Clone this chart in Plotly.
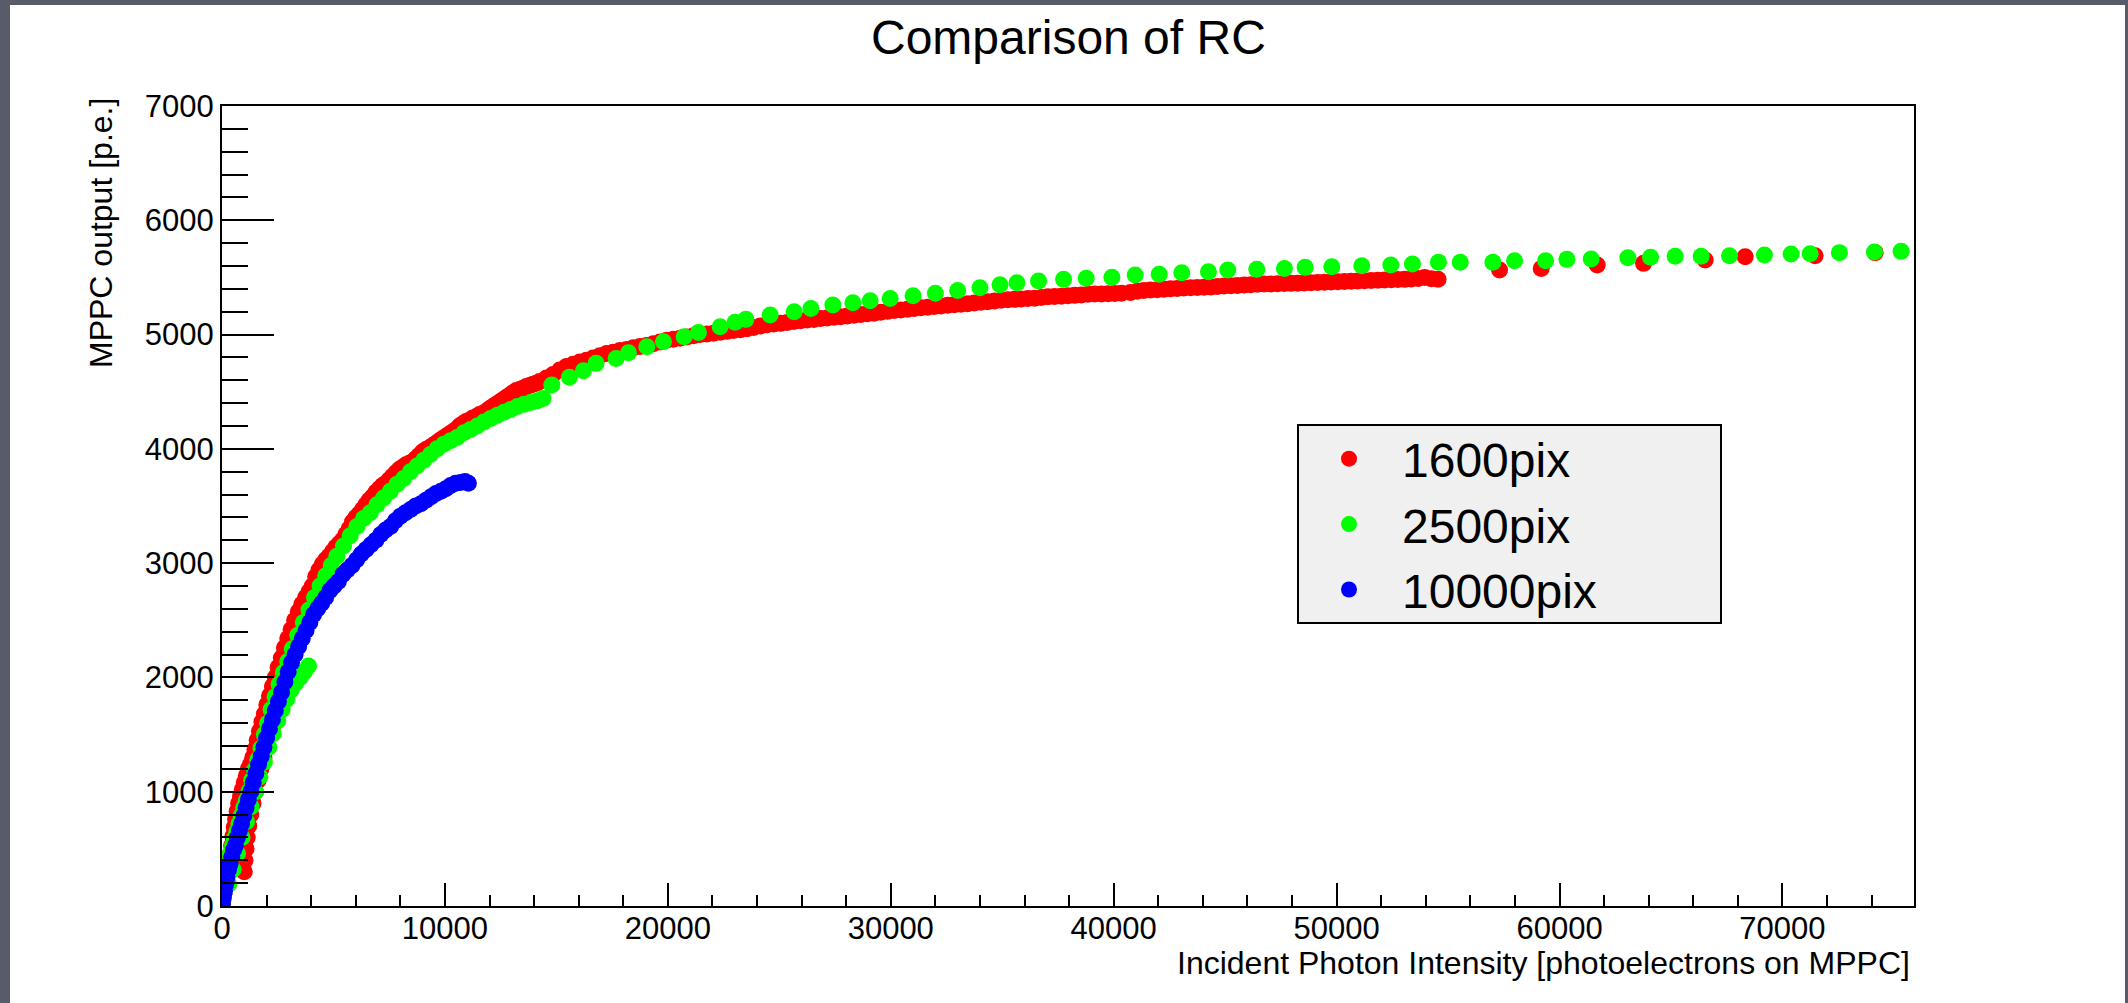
import plotly.graph_objects as go

# ---------------- data ----------------
series_names = ["1600pix", "2500pix", "10000pix"]
series_colors = ["#ff0000", "#00ff00", "#0000ff"]

red_pts = [
    # lower run near origin
    (1000, 300), (1030, 400), (1080, 500), (1130, 600), (1200, 700), (1290, 800), (1390, 900),
    (1500, 1000), (1620, 1100), (1750, 1200), (1880, 1300), (2000, 1400), (2150, 1500),
    (2350, 1600), (2550, 1700),
    # main run
    (30, 40), (80, 100), (130, 160), (190, 230), (250, 300), (310, 380), (370, 450), (430, 530),
    (490, 610), (550, 690), (610, 760), (680, 830), (750, 900), (830, 960), (910, 1020),
    (1000, 1080), (1090, 1140), (1180, 1200), (1280, 1240), (1380, 1300), (1480, 1370),
    (1580, 1450), (1680, 1530), (1790, 1610), (1900, 1680), (2010, 1760), (2130, 1840),
    (2260, 1920), (2390, 2000), (2520, 2090), (2660, 2170), (2800, 2260), (2950, 2340),
    (3100, 2420), (3260, 2500), (3420, 2575), (3580, 2640), (3750, 2700), (3900, 2750),
    (4050, 2800), (4200, 2880), (4350, 2940), (4500, 2990), (4650, 3030), (4800, 3060),
    (4950, 3100), (5100, 3140), (5250, 3170), (5400, 3200), (5550, 3250), (5700, 3300),
    (5850, 3360), (6000, 3400), (6150, 3430), (6300, 3470), (6450, 3510), (6600, 3550),
    (6750, 3580), (6900, 3620), (7050, 3650), (7200, 3680), (7350, 3700), (7500, 3730),
    (7650, 3760), (7800, 3790), (7950, 3820), (8100, 3840), (8250, 3860), (8400, 3875),
    (8550, 3890), (8700, 3915), (8850, 3945), (9000, 3975), (9150, 3995), (9300, 4010),
    (9450, 4030), (9600, 4050), (9750, 4070), (9900, 4090), (10050, 4110), (10200, 4130),
    (10350, 4150), (10500, 4170), (10650, 4200), (10800, 4220), (10950, 4240), (11100, 4250),
    (11250, 4270), (11400, 4280), (11550, 4300), (11700, 4310), (11850, 4330), (12000, 4350),
    (12150, 4370), (12300, 4390), (12450, 4410), (12600, 4430), (12750, 4450), (12900, 4470),
    (13050, 4490), (13200, 4510), (13350, 4520), (13500, 4530), (13650, 4545), (13800, 4555),
    (13950, 4565), (14100, 4575), (14250, 4590), (14550, 4620), (14850, 4650), (15150, 4690),
    (15450, 4720), (15750, 4740), (16050, 4760), (16350, 4775), (16650, 4795), (16950, 4815),
    (17250, 4835), (17550, 4845), (17850, 4860), (18150, 4870), (18450, 4885), (18750, 4895),
    (19050, 4905), (19350, 4920), (19650, 4935), (19950, 4950), (20250, 4960), (20550, 4968),
    (20850, 4978), (21150, 4990), (21450, 5000), (21750, 5005), (22050, 5012), (22350, 5020),
    (22650, 5028), (22950, 5035), (23250, 5042), (23550, 5052), (23850, 5062), (24150, 5075),
    (24450, 5085), (24750, 5092), (25050, 5098), (25350, 5105), (25650, 5115), (25950, 5122),
    (26250, 5128), (26550, 5132), (26850, 5140), (27150, 5146), (27450, 5152), (27750, 5157),
    (28050, 5163), (28350, 5170), (28650, 5176), (28950, 5182), (29250, 5187), (29550, 5195),
    (29850, 5203), (30150, 5210), (30450, 5216), (30750, 5222), (31050, 5228), (31350, 5234),
    (31650, 5240), (31950, 5246), (32250, 5250), (32550, 5256), (32850, 5262), (33150, 5266),
    (33450, 5270), (33750, 5276), (34050, 5282), (34350, 5288), (34650, 5294), (34950, 5300),
    (35250, 5304), (35550, 5308), (35850, 5312), (36150, 5316), (36450, 5318), (36750, 5325),
    (37050, 5330), (37350, 5334), (37650, 5336), (37950, 5340), (38250, 5343), (38550, 5347),
    (38850, 5352), (39150, 5354), (39450, 5356), (39750, 5358), (40050, 5360), (40350, 5362),
    (40750, 5368), (41050, 5380), (41350, 5386), (41650, 5390), (41950, 5393), (42250, 5396),
    (42550, 5400), (42850, 5404), (43150, 5407), (43450, 5409), (43750, 5411), (44050, 5414),
    (44350, 5417), (44650, 5420), (44950, 5424), (45250, 5427), (45550, 5430), (45850, 5433),
    (46150, 5436), (46450, 5440), (46750, 5442), (47050, 5443), (47350, 5444), (47650, 5446),
    (47950, 5448), (48250, 5450), (48550, 5452), (48850, 5454), (49150, 5456), (49450, 5458),
    (49750, 5460), (50050, 5463), (50350, 5465), (50650, 5467), (50950, 5469), (51250, 5471),
    (51550, 5473), (51850, 5475), (52150, 5477), (52450, 5479), (52750, 5481), (53050, 5483),
    (53350, 5486), (53650, 5490), (53950, 5500), (54250, 5488), (54550, 5484),
    # sparse tail
    (57309, 5565), (59178, 5579), (61690, 5608), (63767, 5623), (66533, 5652),
    (68327, 5681), (71465, 5690), (74157, 5717),
]

green_pts = [
    # lower run (ends near 3900)
    (300, 190), (500, 320), (700, 460), (900, 600), (1100, 740), (1300, 870), (1500, 1000),
    (1700, 1130), (1900, 1260), (2100, 1390), (2300, 1510), (2500, 1620), (2700, 1720),
    (2900, 1810), (3100, 1890), (3300, 1950), (3500, 2000), (3700, 2050), (3880, 2100),
    # main run
    (20, 30), (80, 110), (150, 200), (220, 290), (300, 380), (380, 460), (470, 530), (560, 590),
    (660, 650), (760, 720), (860, 790), (970, 860), (1080, 920), (1200, 1000), (1330, 1100),
    (1460, 1190), (1600, 1280), (1750, 1380), (1900, 1500), (2050, 1600), (2200, 1720),
    (2380, 1830), (2560, 1940), (2750, 2040), (2950, 2140), (3150, 2250), (3400, 2370),
    (3650, 2480), (3900, 2590), (4150, 2700), (4400, 2800), (4650, 2890), (4900, 2980),
    (5150, 3060), (5450, 3150), (5750, 3240), (6050, 3320), (6350, 3390), (6650, 3440),
    (6950, 3510), (7250, 3570), (7550, 3630), (7850, 3690), (8150, 3740), (8450, 3800),
    (8750, 3850), (9050, 3900), (9350, 3950), (9650, 4000), (9950, 4040), (10250, 4070),
    (10550, 4100), (10850, 4140), (11150, 4170), (11450, 4200), (11750, 4235), (12050, 4265),
    (12350, 4295), (12650, 4320), (12950, 4345), (13250, 4370), (13550, 4390), (13850, 4405),
    (14150, 4420), (14400, 4440),
    # sparse part
    (14794, 4558), (15584, 4626), (16212, 4683), (16782, 4748), (17679, 4791), (18233, 4841),
    (19058, 4893), (19803, 4937), (20731, 4981), (21373, 5019), (22346, 5069), (23019, 5107),
    (23499, 5133), (24589, 5171), (25666, 5200), (26415, 5229), (27402, 5258), (28299, 5278),
    (29076, 5296), (29973, 5316), (31000, 5340), (32000, 5362), (33000, 5385), (34000, 5410),
    (34900, 5435), (35659, 5454), (36630, 5469), (37751, 5483), (38767, 5492), (39918, 5501),
    (40964, 5521), (42040, 5527), (43054, 5541), (44250, 5550), (45117, 5565), (46418, 5571),
    (47659, 5579), (48587, 5588), (49783, 5594), (51129, 5603), (52430, 5608), (53401, 5617),
    (54567, 5632), (55546, 5632), (57010, 5632), (57982, 5646), (59372, 5646), (60329, 5658),
    (61420, 5661), (63064, 5673), (64081, 5676), (65187, 5685), (66353, 5685), (67623, 5690),
    (69193, 5696), (70389, 5705), (71241, 5708), (72556, 5717), (74126, 5722), (75321, 5728),
]

blue_pts = [
    (20, 20), (60, 70), (110, 130), (160, 190), (220, 250), (290, 315), (360, 370), (440, 430),
    (520, 490), (600, 530), (690, 600), (780, 660), (880, 720), (980, 790), (1080, 860),
    (1180, 930), (1290, 1000), (1400, 1080), (1520, 1160), (1640, 1240), (1760, 1310),
    (1880, 1390), (2000, 1470), (2130, 1550), (2260, 1630), (2390, 1710), (2530, 1790),
    (2670, 1870), (2820, 1960), (2970, 2050), (3120, 2130), (3280, 2200), (3440, 2270),
    (3600, 2340), (3770, 2410), (3940, 2480), (4110, 2550), (4290, 2600), (4470, 2650),
    (4650, 2700), (4840, 2760), (5030, 2800), (5220, 2840), (5420, 2900), (5620, 2940),
    (5830, 2980), (6040, 3030), (6250, 3080), (6460, 3120), (6680, 3160), (6900, 3200),
    (7120, 3250), (7340, 3290), (7560, 3320), (7780, 3370), (8000, 3410), (8230, 3440),
    (8460, 3470), (8690, 3500), (8920, 3520), (9150, 3550), (9380, 3580), (9600, 3610),
    (9820, 3630), (10040, 3650), (10260, 3680), (10480, 3700), (10700, 3705), (10900, 3715),
    (11050, 3700),
]

x_range = [0, 75900]
y_range = [0, 7000]
title_text = "Comparison of RC"
x_title = "Incident Photon Intensity [photoelectrons on MPPC]"
y_title = "MPPC output [p.e.]"

# ---------------- figure ----------------
W, H = 2128, 1003
L, R, T, B = 222, 214, 106, 97
PW, PH = W - L - R, H - T - B


def px(xp):
    return (xp - L) / PW


def py(yp):
    return (H - B - yp) / PH


FONT = "Liberation Sans, Arial, Helvetica, sans-serif"

fig = go.Figure()
for pts, name, color in zip([red_pts, green_pts, blue_pts], series_names, series_colors):
    xs, ys = zip(*pts)
    fig.add_trace(go.Scatter(
        x=list(xs), y=list(ys), mode="markers", name=name,
        marker=dict(color=color, size=17, line=dict(width=0)),
    ))

axis_common = dict(
    showgrid=False, zeroline=False, showline=True, linecolor="black", linewidth=2,
    mirror=True, ticks="inside", tickcolor="black", tickwidth=2, tickformat="d",
    tickfont=dict(family=FONT, size=31, color="black"),
)

fig.update_xaxes(range=x_range, dtick=10000, tick0=0, ticklen=23, ticklabelstandoff=-6,
                 minor=dict(dtick=2000, ticklen=11, ticks="inside", tickcolor="black", tickwidth=2),
                 **axis_common)
fig.update_yaxes(range=y_range, dtick=1000, tick0=0, ticklen=52,
                 minor=dict(dtick=200, ticklen=26, ticks="inside", tickcolor="black", tickwidth=2),
                 **axis_common)

shapes = [
    dict(type="rect", xref="paper", yref="paper", x0=px(10), x1=px(2125), y0=py(1010), y1=py(5),
         fillcolor="white", line=dict(width=0), layer="below"),
    dict(type="rect", xref="paper", yref="paper", x0=px(1298), x1=px(1721), y0=py(623), y1=py(425),
         fillcolor="#f0f0f0", line=dict(color="black", width=2), layer="below"),
]

annotations = [
    dict(text=title_text, xref="paper", yref="paper", x=0.5, y=py(37), xanchor="center",
         yanchor="middle", showarrow=False, font=dict(family=FONT, size=48, color="black")),
    dict(text=x_title, xref="paper", yref="paper", x=px(1912), y=py(963), xanchor="right",
         yanchor="middle", showarrow=False, font=dict(family=FONT, size=32, color="black")),
    dict(text=y_title, xref="paper", yref="paper", x=px(101), y=py(96), xanchor="center",
         yanchor="top", textangle=-90, showarrow=False, font=dict(family=FONT, size=32, color="black")),
]

fig.update_layout(
    width=W, height=H,
    margin=dict(l=L, r=R, t=T, b=B, pad=0),
    paper_bgcolor="#585c68", plot_bgcolor="white",
    shapes=shapes, annotations=annotations,
    showlegend=True,
    legend=dict(x=px(1296), y=py(421), xanchor="left", yanchor="top",
                bgcolor="rgba(0,0,0,0)", borderwidth=0, itemwidth=96,
                font=dict(family=FONT, size=48, color="black"),
                itemsizing="trace"),
)

fig.write_html("out.html")
